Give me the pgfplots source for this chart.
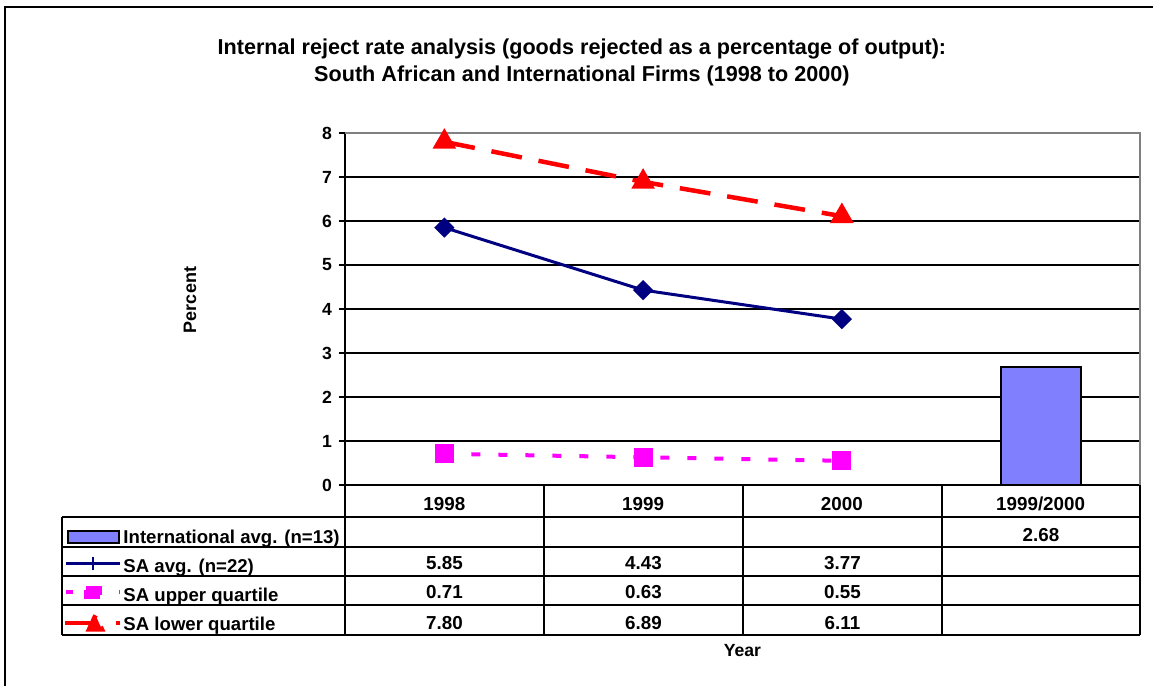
\documentclass[border=0pt]{standalone}
\usepackage{pgfplots}
\pgfplotsset{compat=1.18}
\usepackage{fontspec}
\setmainfont{Liberation Sans}
\definecolor{navyc}{HTML}{000080}
\definecolor{magc}{HTML}{FF00FF}
\definecolor{redc}{HTML}{FF0000}
\definecolor{barc}{HTML}{8080FF}
\definecolor{grayc}{HTML}{808080}
\begin{document}
\begin{tikzpicture}
\path[use as bounding box] (0,0) rectangle (576.5pt,-343pt);
\draw[line width=1.2pt] (2.35pt,-3.5pt) rectangle (620pt,-380pt);
\begin{axis}[
  at={(172.5pt,-242.5pt)}, anchor=south west,
  scale only axis, width=397.5pt, height=176pt,
  xmin=-0.5, xmax=3.5, ymin=0, ymax=8,
  clip=false,
  xtick={0,1,2,3}, xticklabels={1998,1999,2000,1999/2000},
  ytick={0,1,2,3,4,5,6,7,8},
  axis x line=bottom, axis y line=left,
  axis line style={-, line width=1pt, black},
  ymajorgrids, grid style={black, line width=1pt},
  tick align=outside, major tick length=3pt,
  tick style={black, line width=1pt},
  xtick style={draw=none},
  /pgf/number format/assume math mode=true,
  yticklabel style={font=\fontsize{8.8}{10}\selectfont\bfseries},
  xticklabel style={font=\fontsize{9.4}{10}\selectfont\bfseries, anchor=base, yshift=-9.5pt},
  title={Internal reject rate analysis (goods rejected as a percentage of output):\\South African and International Firms (1998 to 2000)},
  title style={at={(axis description cs:0.298,1.166)}, anchor=center, align=center, font=\fontsize{10.8}{13.5}\selectfont\bfseries},
  ylabel={Percent},
  ylabel style={at={(axis description cs:-0.195,0.5256)}, anchor=center, font=\fontsize{9}{10}\selectfont\bfseries},
  xlabel={Year},
  xlabel style={at={(axis description cs:0.5,-0.4716)}, anchor=center, font=\fontsize{8.8}{10}\selectfont\bfseries},
  legend style={at={(axis description cs:-0.3541,-0.1065)}, anchor=north west,
    draw=none, fill=none, inner sep=0pt, outer sep=0pt, row sep=0pt,
    font=\fontsize{9.3}{10}\selectfont\bfseries,
    cells={anchor=base west},
    nodes={inner sep=0pt, outer sep=0pt, text height=10.5pt, text depth=4pt},
    /tikz/every odd column/.append style={column sep=0.5pt}},
]
\addplot[ybar, bar width=40pt, fill=barc, draw=black, line width=1pt,
  legend image code/.code={\draw[fill=barc, draw=black, line width=1pt] (1pt,0.4pt) rectangle (26.5pt,6.3pt);}]
  coordinates {(3,2.68)};
\addlegendentry{International avg. (n=13)}
\addplot[navyc, line width=1.5pt, mark=square*, mark size=2.83pt, mark options={rotate=45, fill=navyc},
  legend image code/.code={\draw[navyc, line width=1.5pt] (0pt,4.35pt) -- (27pt,4.35pt); \draw[navyc, line width=1.2pt] (13.3pt,1pt) -- (13.3pt,7.5pt);}]
  coordinates {(0,5.85) (1,4.43) (2,3.77)};
\addlegendentry{SA avg. (n=22)}
\addplot[magc, line width=2pt, dash pattern=on 4.5pt off 9pt, mark=square*, mark size=3.75pt, mark options={solid, fill=magc},
  legend image code/.code={\draw[magc, line width=2pt] (0pt,4.5pt) -- (3.5pt,4.5pt) (26.4pt,4.5pt) -- (27pt,4.5pt); \fill[magc] (10pt,1.2pt) rectangle (17pt,7.6pt);}]
  coordinates {(0,0.71) (1,0.63) (2,0.55)};
\addlegendentry{SA upper quartile}
\addplot[redc, line width=2.25pt, dash pattern=on 15.5pt off 8.5pt, mark=triangle*, mark size=4.6pt, mark options={solid, fill=redc},
  legend image code/.code={\draw[redc, line width=2pt] (-0.5pt,3.9pt) -- (12pt,3.9pt) (25pt,3.9pt) -- (27pt,3.9pt); \fill[redc] (14.5pt,7.6pt) -- (11.3pt,0.6pt) -- (17.7pt,0.6pt) -- cycle;}]
  coordinates {(0,7.80) (1,6.89) (2,6.11)};
\addlegendentry{SA lower quartile}
\draw[grayc, line width=1pt] (axis cs:-0.5,8) -- (axis cs:3.5,8) -- (axis cs:3.5,0);
\end{axis}
\begin{scope}[x=0.5pt, y=-0.5pt, line width=1pt]
  \draw (345,485) -- (345,635);
  \draw (544,485) -- (544,635);
  \draw (743,485) -- (743,635);
  \draw (942,485) -- (942,635);
  \draw (1140,485) -- (1140,635);
  \draw (62,517) -- (62,635);
  \foreach \yy in {517,546.5,575.5,605,634.5} { \draw (62,\yy) -- (1140,\yy); }
  \begin{scope}[every node/.style={anchor=base, inner sep=0pt, font=\fontsize{9.4}{10}\selectfont\bfseries}]
    \node at (1041,541) {2.68};
    \node at (444.5,569.5) {5.85};
    \node at (643.5,569.5) {4.43};
    \node at (842.5,569.5) {3.77};
    \node at (444.5,598.5) {0.71};
    \node at (643.5,598.5) {0.63};
    \node at (842.5,598.5) {0.55};
    \node at (444.5,629) {7.80};
    \node at (643.5,629) {6.89};
    \node at (842.5,629) {6.11};
  \end{scope}
\end{scope}
\end{tikzpicture}
\end{document}
